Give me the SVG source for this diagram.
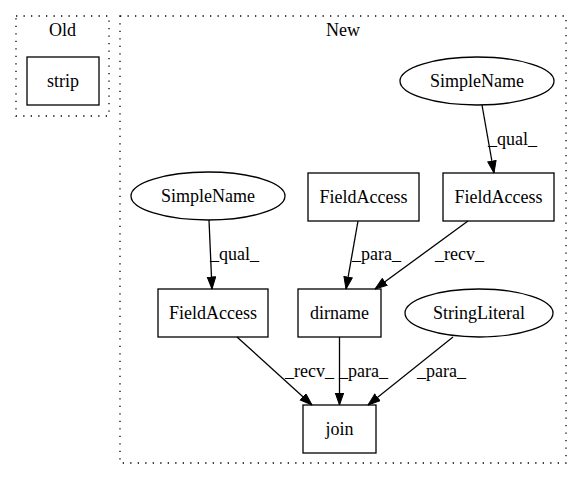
<svg xmlns="http://www.w3.org/2000/svg" width="581" height="480" viewBox="0 0 581 480">
<style>
.cl{fill:none;stroke:#000;stroke-width:1.3;stroke-dasharray:1.3,6.2;}
.n{fill:none;stroke:#000;stroke-width:1.3;}
text{font-family:'Liberation Serif','DejaVu Serif','Times New Roman',serif;font-size:18px;fill:#000;}
.c{text-anchor:middle;}
.e{stroke:#000;stroke-width:1.3;fill:none;}
</style>
<defs>
<marker id="ah" markerUnits="userSpaceOnUse" markerWidth="13" markerHeight="10" refX="12.5" refY="4.7" orient="auto">
<path d="M0.5,0.5 L12.5,4.7 L0.5,8.9 z" fill="#000" stroke="#000" stroke-width="1"/>
</marker>
</defs>
<rect fill="#fff" x="0" y="0" width="581" height="480"/>
<g id="cluster_old">
<rect class="cl" x="16" y="16" width="93" height="100"/>
<text class="c" x="62.5" y="36">Old</text>
</g>
<g id="cluster_new">
<rect class="cl" x="120" y="16" width="446" height="447"/>
<text class="c" x="343" y="36">New</text>
</g>
<g id="strip">
<rect class="n" x="27" y="57" width="72" height="48"/>
<text class="c" x="63" y="87">strip</text>
</g>
<g id="simplename_top">
<ellipse class="n" cx="477" cy="81" rx="77" ry="24"/>
<text class="c" x="477" y="87">SimpleName</text>
</g>
<g id="fieldaccess_mid">
<rect class="n" x="308" y="173" width="111" height="48"/>
<text class="c" x="363.5" y="203">FieldAccess</text>
</g>
<g id="fieldaccess_right">
<rect class="n" x="443" y="173" width="111" height="48"/>
<text class="c" x="498.5" y="203">FieldAccess</text>
</g>
<g id="simplename_left">
<ellipse class="n" cx="208" cy="196" rx="77" ry="24"/>
<text class="c" x="208" y="202">SimpleName</text>
</g>
<g id="fieldaccess_left">
<rect class="n" x="158" y="289" width="110" height="48"/>
<text class="c" x="213" y="319">FieldAccess</text>
</g>
<g id="dirname">
<rect class="n" x="298" y="289" width="83" height="48"/>
<text class="c" x="339.5" y="319">dirname</text>
</g>
<g id="stringliteral">
<ellipse class="n" cx="479" cy="313" rx="74" ry="24"/>
<text class="c" x="479" y="319">StringLiteral</text>
</g>
<g id="join">
<rect class="n" x="303" y="405" width="73" height="48"/>
<text class="c" x="339.5" y="435">join</text>
</g>
<g id="edges">
<line class="e" x1="482" y1="105" x2="494" y2="173" marker-end="url(#ah)"/>
<text x="488" y="145">_qual_</text>
<line class="e" x1="358" y1="221" x2="346" y2="289" marker-end="url(#ah)"/>
<text x="352" y="260">_para_</text>
<line class="e" x1="468" y1="221" x2="375" y2="289" marker-end="url(#ah)"/>
<text x="435" y="260">_recv_</text>
<line class="e" x1="209" y1="220" x2="212" y2="289" marker-end="url(#ah)"/>
<text x="210" y="260">_qual_</text>
<line class="e" x1="237" y1="337" x2="312" y2="405" marker-end="url(#ah)"/>
<text x="285" y="377">_recv_</text>
<line class="e" x1="339.5" y1="337" x2="339.5" y2="405" marker-end="url(#ah)"/>
<text x="339" y="377">_para_</text>
<line class="e" x1="453" y1="337" x2="368" y2="405" marker-end="url(#ah)"/>
<text x="417" y="377">_para_</text>
</g>
</svg>
